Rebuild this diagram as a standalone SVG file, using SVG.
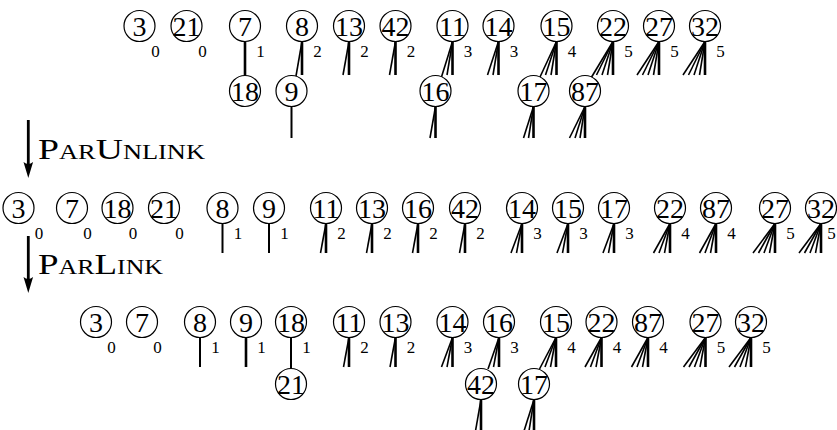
<svg xmlns="http://www.w3.org/2000/svg" width="837" height="430" viewBox="0 0 837 430">
<style>
.c{fill:#fff;stroke:#000;stroke-width:1.2}
.n{font-family:"Liberation Serif","Times New Roman",serif;font-size:28px;text-anchor:middle;fill:#000}
.s{font-family:"Liberation Serif","Times New Roman",serif;font-size:17px;text-anchor:middle;fill:#000}
.lbl{font-family:"Liberation Serif","Times New Roman",serif;font-size:30px;fill:#000}
.sc{font-size:21px}
.v{stroke:#000;stroke-width:2.6;fill:none}
.v2{stroke:#000;stroke-width:2;fill:none}
.t{stroke:#000;stroke-width:1.6;fill:none}
</style>
<rect width="837" height="430" fill="#fff"/>

<g id="connectors">
  <!-- Row 1 fans (y 41.5 -> 75.5) -->
  <line class="v" x1="245" y1="41.5" x2="245" y2="75.5"/>
  <line class="v" x1="302" y1="41.5" x2="302" y2="75"/>
  <line class="t" x1="302" y1="41.5" x2="296" y2="76"/>
  <line class="v" x1="349" y1="41.5" x2="349" y2="75"/>
  <line class="t" x1="349" y1="41.5" x2="343" y2="75"/>
  <line class="v" x1="395.5" y1="41.5" x2="395.5" y2="75"/>
  <line class="t" x1="395.5" y1="41.5" x2="389.5" y2="75"/>
  <line class="v" x1="452.5" y1="41.5" x2="452.5" y2="75"/>
  <line class="t" x1="452.5" y1="41.5" x2="447" y2="75"/>
  <line class="t" x1="452.5" y1="41.5" x2="441.5" y2="77"/>
  <line class="v" x1="498.5" y1="41.5" x2="498.5" y2="75"/>
  <line class="t" x1="498.5" y1="41.5" x2="493" y2="75"/>
  <line class="t" x1="498.5" y1="41.5" x2="487.5" y2="75"/>
  <line class="v" x1="556.5" y1="41.5" x2="556.5" y2="75"/>
  <line class="t" x1="556.5" y1="41.5" x2="551" y2="75"/>
  <line class="t" x1="556.5" y1="41.5" x2="545.5" y2="75"/>
  <line class="t" x1="556.5" y1="41.5" x2="540" y2="77"/>
  <line class="v" x1="613" y1="41.5" x2="613" y2="75"/>
  <line class="t" x1="613" y1="41.5" x2="607.5" y2="75"/>
  <line class="t" x1="613" y1="41.5" x2="602" y2="75"/>
  <line class="t" x1="613" y1="41.5" x2="596.5" y2="75"/>
  <line class="t" x1="613" y1="41.5" x2="591" y2="78"/>
  <line class="v" x1="659" y1="41.5" x2="659" y2="75"/>
  <line class="t" x1="659" y1="41.5" x2="653.5" y2="75"/>
  <line class="t" x1="659" y1="41.5" x2="648" y2="75"/>
  <line class="t" x1="659" y1="41.5" x2="642.5" y2="75"/>
  <line class="t" x1="659" y1="41.5" x2="637" y2="75"/>
  <line class="v" x1="705" y1="41.5" x2="705" y2="75"/>
  <line class="t" x1="705" y1="41.5" x2="699.5" y2="75"/>
  <line class="t" x1="705" y1="41.5" x2="694" y2="75"/>
  <line class="t" x1="705" y1="41.5" x2="688.5" y2="75"/>
  <line class="t" x1="705" y1="41.5" x2="683" y2="75"/>
  <!-- Row 1 children fans (y 106.5 -> 138) -->
  <line class="v2" x1="291.5" y1="106.5" x2="291.5" y2="138"/>
  <line class="v" x1="435.5" y1="106.5" x2="435.5" y2="138"/>
  <line class="t" x1="435.5" y1="106.5" x2="430" y2="138"/>
  <line class="v" x1="533.5" y1="106.5" x2="533.5" y2="138"/>
  <line class="t" x1="533.5" y1="106.5" x2="528.5" y2="138"/>
  <line class="t" x1="533.5" y1="106.5" x2="523.5" y2="138"/>
  <line class="v" x1="585" y1="106.5" x2="585" y2="138"/>
  <line class="t" x1="585" y1="106.5" x2="580" y2="138"/>
  <line class="t" x1="585" y1="106.5" x2="575" y2="138"/>
  <line class="t" x1="585" y1="106.5" x2="569.5" y2="138"/>

  <!-- Row 2 fans (y 223.5 -> 253) -->
  <line class="v2" x1="222.5" y1="223.5" x2="222.5" y2="253"/>
  <line class="v2" x1="269" y1="223.5" x2="269" y2="253"/>
  <line class="v" x1="326" y1="223.5" x2="326" y2="253"/>
  <line class="t" x1="326" y1="223.5" x2="320.5" y2="253"/>
  <line class="v" x1="372" y1="223.5" x2="372" y2="253"/>
  <line class="t" x1="372" y1="223.5" x2="366.5" y2="253"/>
  <line class="v" x1="418" y1="223.5" x2="418" y2="253"/>
  <line class="t" x1="418" y1="223.5" x2="412.5" y2="253"/>
  <line class="v" x1="465" y1="223.5" x2="465" y2="253"/>
  <line class="t" x1="465" y1="223.5" x2="459.5" y2="253"/>
  <line class="v" x1="522" y1="223.5" x2="522" y2="253"/>
  <line class="t" x1="522" y1="223.5" x2="516.5" y2="253"/>
  <line class="t" x1="522" y1="223.5" x2="511" y2="253"/>
  <line class="v" x1="568" y1="223.5" x2="568" y2="253"/>
  <line class="t" x1="568" y1="223.5" x2="562.5" y2="253"/>
  <line class="t" x1="568" y1="223.5" x2="557" y2="253"/>
  <line class="v" x1="614" y1="223.5" x2="614" y2="253"/>
  <line class="t" x1="614" y1="223.5" x2="608.5" y2="253"/>
  <line class="t" x1="614" y1="223.5" x2="603" y2="253"/>
  <line class="v" x1="670" y1="223.5" x2="670" y2="253"/>
  <line class="t" x1="670" y1="223.5" x2="664.5" y2="253"/>
  <line class="t" x1="670" y1="223.5" x2="659" y2="253"/>
  <line class="t" x1="670" y1="223.5" x2="653.5" y2="253"/>
  <line class="v" x1="716" y1="223.5" x2="716" y2="253"/>
  <line class="t" x1="716" y1="223.5" x2="710.5" y2="253"/>
  <line class="t" x1="716" y1="223.5" x2="705" y2="253"/>
  <line class="t" x1="716" y1="223.5" x2="699.5" y2="253"/>
  <line class="v" x1="775" y1="223.5" x2="775" y2="253"/>
  <line class="t" x1="775" y1="223.5" x2="769.5" y2="253"/>
  <line class="t" x1="775" y1="223.5" x2="764" y2="253"/>
  <line class="t" x1="775" y1="223.5" x2="758.5" y2="253"/>
  <line class="t" x1="775" y1="223.5" x2="753" y2="253"/>
  <line class="v" x1="821" y1="223.5" x2="821" y2="253"/>
  <line class="t" x1="821" y1="223.5" x2="815.5" y2="253"/>
  <line class="t" x1="821" y1="223.5" x2="810" y2="253"/>
  <line class="t" x1="821" y1="223.5" x2="804.5" y2="253"/>
  <line class="t" x1="821" y1="223.5" x2="799" y2="253"/>

  <!-- Row 3 fans (y 337.5 -> 367) -->
  <line class="v2" x1="200" y1="337.5" x2="200" y2="367"/>
  <line class="v" x1="246" y1="337.5" x2="246" y2="367"/>
  <line class="v2" x1="291" y1="337.5" x2="291" y2="368"/>
  <line class="v" x1="349" y1="337.5" x2="349" y2="367"/>
  <line class="t" x1="349" y1="337.5" x2="343.5" y2="367"/>
  <line class="v" x1="395.5" y1="337.5" x2="395.5" y2="367"/>
  <line class="t" x1="395.5" y1="337.5" x2="390" y2="367"/>
  <line class="v" x1="452.5" y1="337.5" x2="452.5" y2="367"/>
  <line class="t" x1="452.5" y1="337.5" x2="447" y2="367"/>
  <line class="t" x1="452.5" y1="337.5" x2="441.5" y2="367"/>
  <line class="v" x1="499" y1="337.5" x2="499" y2="367"/>
  <line class="t" x1="499" y1="337.5" x2="493.5" y2="367"/>
  <line class="t" x1="499" y1="337.5" x2="488" y2="369"/>
  <line class="v" x1="556" y1="337.5" x2="556" y2="367"/>
  <line class="t" x1="556" y1="337.5" x2="550.5" y2="367"/>
  <line class="t" x1="556" y1="337.5" x2="545" y2="367"/>
  <line class="t" x1="556" y1="337.5" x2="539.5" y2="369"/>
  <line class="v" x1="601.5" y1="337.5" x2="601.5" y2="367"/>
  <line class="t" x1="601.5" y1="337.5" x2="596" y2="367"/>
  <line class="t" x1="601.5" y1="337.5" x2="590.5" y2="367"/>
  <line class="t" x1="601.5" y1="337.5" x2="585" y2="367"/>
  <line class="v" x1="648" y1="337.5" x2="648" y2="367"/>
  <line class="t" x1="648" y1="337.5" x2="642.5" y2="367"/>
  <line class="t" x1="648" y1="337.5" x2="637" y2="367"/>
  <line class="t" x1="648" y1="337.5" x2="631.5" y2="367"/>
  <line class="v" x1="705.5" y1="337.5" x2="705.5" y2="367"/>
  <line class="t" x1="705.5" y1="337.5" x2="700" y2="367"/>
  <line class="t" x1="705.5" y1="337.5" x2="694.5" y2="367"/>
  <line class="t" x1="705.5" y1="337.5" x2="689" y2="367"/>
  <line class="t" x1="705.5" y1="337.5" x2="683.5" y2="367"/>
  <line class="v" x1="751" y1="337.5" x2="751" y2="367"/>
  <line class="t" x1="751" y1="337.5" x2="745.5" y2="367"/>
  <line class="t" x1="751" y1="337.5" x2="740" y2="367"/>
  <line class="t" x1="751" y1="337.5" x2="734.5" y2="367"/>
  <line class="t" x1="751" y1="337.5" x2="729" y2="367"/>
  <!-- Row 3 children fans (y 399.5 -> 430) -->
  <line class="v" x1="481" y1="399.5" x2="481" y2="431"/>
  <line class="t" x1="481" y1="399.5" x2="475.5" y2="431"/>
  <line class="v" x1="534" y1="399.5" x2="534" y2="431"/>
  <line class="t" x1="534" y1="399.5" x2="529" y2="431"/>
  <line class="t" x1="534" y1="399.5" x2="524" y2="431"/>

  <!-- Arrows -->
  <line x1="28.3" y1="120" x2="28.3" y2="165" stroke="#000" stroke-width="2.8"/>
  <path d="M23.5,162 Q28.3,166 33.1,162 L28.3,178 Z" fill="#000"/>
  <line x1="28.3" y1="236" x2="28.3" y2="280" stroke="#000" stroke-width="2.8"/>
  <path d="M23.5,277 Q28.3,281 33.1,277 L28.3,293 Z" fill="#000"/>
</g>

<g id="label-parunlink"><text class="lbl" x="38" y="159" textLength="167" lengthAdjust="spacingAndGlyphs">P<tspan class="sc">AR</tspan>U<tspan class="sc">NLINK</tspan></text></g>
<g id="label-parlink"><text class="lbl" x="38" y="274" textLength="125" lengthAdjust="spacingAndGlyphs">P<tspan class="sc">AR</tspan>L<tspan class="sc">INK</tspan></text></g>

<!-- Row 1 -->
<g id="r1-3"><circle class="c" cx="139.5" cy="26" r="15.5"/><text class="n" x="139.5" y="36">3</text><text class="s" x="155.5" y="57">0</text></g>
<g id="r1-21"><circle class="c" cx="186.5" cy="26" r="15.5"/><text class="n" x="186.5" y="36">21</text><text class="s" x="202.5" y="57">0</text></g>
<g id="r1-7"><circle class="c" cx="245" cy="26" r="15.5"/><text class="n" x="245" y="36">7</text><text class="s" x="260.5" y="57">1</text></g>
<g id="r1-8"><circle class="c" cx="302" cy="26" r="15.5"/><text class="n" x="302" y="36">8</text><text class="s" x="317.5" y="57">2</text></g>
<g id="r1-13"><circle class="c" cx="349" cy="26" r="15.5"/><text class="n" x="349" y="36">13</text><text class="s" x="364.5" y="57">2</text></g>
<g id="r1-42"><circle class="c" cx="395.5" cy="26" r="15.5"/><text class="n" x="395.5" y="36">42</text><text class="s" x="411" y="57">2</text></g>
<g id="r1-11"><circle class="c" cx="452.5" cy="26" r="15.5"/><text class="n" x="452.5" y="36">11</text><text class="s" x="468" y="57">3</text></g>
<g id="r1-14"><circle class="c" cx="498.5" cy="26" r="15.5"/><text class="n" x="498.5" y="36">14</text><text class="s" x="514" y="57">3</text></g>
<g id="r1-15"><circle class="c" cx="556.5" cy="26" r="15.5"/><text class="n" x="556.5" y="36">15</text><text class="s" x="572" y="57">4</text></g>
<g id="r1-22"><circle class="c" cx="613" cy="26" r="15.5"/><text class="n" x="613" y="36">22</text><text class="s" x="628.5" y="57">5</text></g>
<g id="r1-27"><circle class="c" cx="659" cy="26" r="15.5"/><text class="n" x="659" y="36">27</text><text class="s" x="674.5" y="57">5</text></g>
<g id="r1-32"><circle class="c" cx="705" cy="26" r="15.5"/><text class="n" x="705" y="36">32</text><text class="s" x="720.5" y="57">5</text></g>
<g id="r1-18"><circle class="c" cx="245" cy="91" r="15.5"/><text class="n" x="245" y="101">18</text></g>
<g id="r1-9"><circle class="c" cx="291.5" cy="91" r="15.5"/><text class="n" x="291.5" y="101">9</text></g>
<g id="r1-16"><circle class="c" cx="435.5" cy="91" r="15.5"/><text class="n" x="435.5" y="101">16</text></g>
<g id="r1-17"><circle class="c" cx="533.5" cy="91" r="15.5"/><text class="n" x="533.5" y="101">17</text></g>
<g id="r1-87"><circle class="c" cx="585" cy="91" r="15.5"/><text class="n" x="585" y="101">87</text></g>

<!-- Row 2 -->
<g id="r2-3"><circle class="c" cx="18.5" cy="208" r="15.5"/><text class="n" x="18.5" y="218">3</text><text class="s" x="39" y="239">0</text></g>
<g id="r2-7"><circle class="c" cx="72" cy="208" r="15.5"/><text class="n" x="72" y="218">7</text><text class="s" x="87.5" y="239">0</text></g>
<g id="r2-18"><circle class="c" cx="117.5" cy="208" r="15.5"/><text class="n" x="117.5" y="218">18</text><text class="s" x="133" y="239">0</text></g>
<g id="r2-21"><circle class="c" cx="164" cy="208" r="15.5"/><text class="n" x="164" y="218">21</text><text class="s" x="179.5" y="239">0</text></g>
<g id="r2-8"><circle class="c" cx="222.5" cy="208" r="15.5"/><text class="n" x="222.5" y="218">8</text><text class="s" x="238" y="239">1</text></g>
<g id="r2-9"><circle class="c" cx="269" cy="208" r="15.5"/><text class="n" x="269" y="218">9</text><text class="s" x="284.5" y="239">1</text></g>
<g id="r2-11"><circle class="c" cx="326" cy="208" r="15.5"/><text class="n" x="326" y="218">11</text><text class="s" x="341.5" y="239">2</text></g>
<g id="r2-13"><circle class="c" cx="372" cy="208" r="15.5"/><text class="n" x="372" y="218">13</text><text class="s" x="387.5" y="239">2</text></g>
<g id="r2-16"><circle class="c" cx="418" cy="208" r="15.5"/><text class="n" x="418" y="218">16</text><text class="s" x="433.5" y="239">2</text></g>
<g id="r2-42"><circle class="c" cx="465" cy="208" r="15.5"/><text class="n" x="465" y="218">42</text><text class="s" x="480.5" y="239">2</text></g>
<g id="r2-14"><circle class="c" cx="522" cy="208" r="15.5"/><text class="n" x="522" y="218">14</text><text class="s" x="537.5" y="239">3</text></g>
<g id="r2-15"><circle class="c" cx="568" cy="208" r="15.5"/><text class="n" x="568" y="218">15</text><text class="s" x="583.5" y="239">3</text></g>
<g id="r2-17"><circle class="c" cx="614" cy="208" r="15.5"/><text class="n" x="614" y="218">17</text><text class="s" x="629.5" y="239">3</text></g>
<g id="r2-22"><circle class="c" cx="670" cy="208" r="15.5"/><text class="n" x="670" y="218">22</text><text class="s" x="685.5" y="239">4</text></g>
<g id="r2-87"><circle class="c" cx="716" cy="208" r="15.5"/><text class="n" x="716" y="218">87</text><text class="s" x="731.5" y="239">4</text></g>
<g id="r2-27"><circle class="c" cx="775" cy="208" r="15.5"/><text class="n" x="775" y="218">27</text><text class="s" x="790.5" y="239">5</text></g>
<g id="r2-32"><circle class="c" cx="821" cy="208" r="15.5"/><text class="n" x="821" y="218">32</text><text class="s" x="831.5" y="239">5</text></g>

<!-- Row 3 -->
<g id="r3-3"><circle class="c" cx="96" cy="322" r="15.5"/><text class="n" x="96" y="332">3</text><text class="s" x="111.5" y="353">0</text></g>
<g id="r3-7"><circle class="c" cx="142" cy="322" r="15.5"/><text class="n" x="142" y="332">7</text><text class="s" x="157.5" y="353">0</text></g>
<g id="r3-8"><circle class="c" cx="200" cy="322" r="15.5"/><text class="n" x="200" y="332">8</text><text class="s" x="215.5" y="353">1</text></g>
<g id="r3-9"><circle class="c" cx="246" cy="322" r="15.5"/><text class="n" x="246" y="332">9</text><text class="s" x="261.5" y="353">1</text></g>
<g id="r3-18"><circle class="c" cx="291" cy="322" r="15.5"/><text class="n" x="291" y="332">18</text><text class="s" x="306.5" y="353">1</text></g>
<g id="r3-11"><circle class="c" cx="349" cy="322" r="15.5"/><text class="n" x="349" y="332">11</text><text class="s" x="364.5" y="353">2</text></g>
<g id="r3-13"><circle class="c" cx="395.5" cy="322" r="15.5"/><text class="n" x="395.5" y="332">13</text><text class="s" x="411" y="353">2</text></g>
<g id="r3-14"><circle class="c" cx="452.5" cy="322" r="15.5"/><text class="n" x="452.5" y="332">14</text><text class="s" x="468" y="353">3</text></g>
<g id="r3-16"><circle class="c" cx="499" cy="322" r="15.5"/><text class="n" x="499" y="332">16</text><text class="s" x="514.5" y="353">3</text></g>
<g id="r3-15"><circle class="c" cx="556" cy="322" r="15.5"/><text class="n" x="556" y="332">15</text><text class="s" x="571.5" y="353">4</text></g>
<g id="r3-22"><circle class="c" cx="601.5" cy="322" r="15.5"/><text class="n" x="601.5" y="332">22</text><text class="s" x="617" y="353">4</text></g>
<g id="r3-87"><circle class="c" cx="648" cy="322" r="15.5"/><text class="n" x="648" y="332">87</text><text class="s" x="663.5" y="353">4</text></g>
<g id="r3-27"><circle class="c" cx="705.5" cy="322" r="15.5"/><text class="n" x="705.5" y="332">27</text><text class="s" x="721" y="353">5</text></g>
<g id="r3-32"><circle class="c" cx="751" cy="322" r="15.5"/><text class="n" x="751" y="332">32</text><text class="s" x="766.5" y="353">5</text></g>
<g id="r3-21"><circle class="c" cx="291" cy="384" r="15.5"/><text class="n" x="291" y="394">21</text></g>
<g id="r3-42"><circle class="c" cx="481" cy="384" r="15.5"/><text class="n" x="481" y="394">42</text></g>
<g id="r3-17"><circle class="c" cx="534" cy="384" r="15.5"/><text class="n" x="534" y="394">17</text></g>
</svg>
